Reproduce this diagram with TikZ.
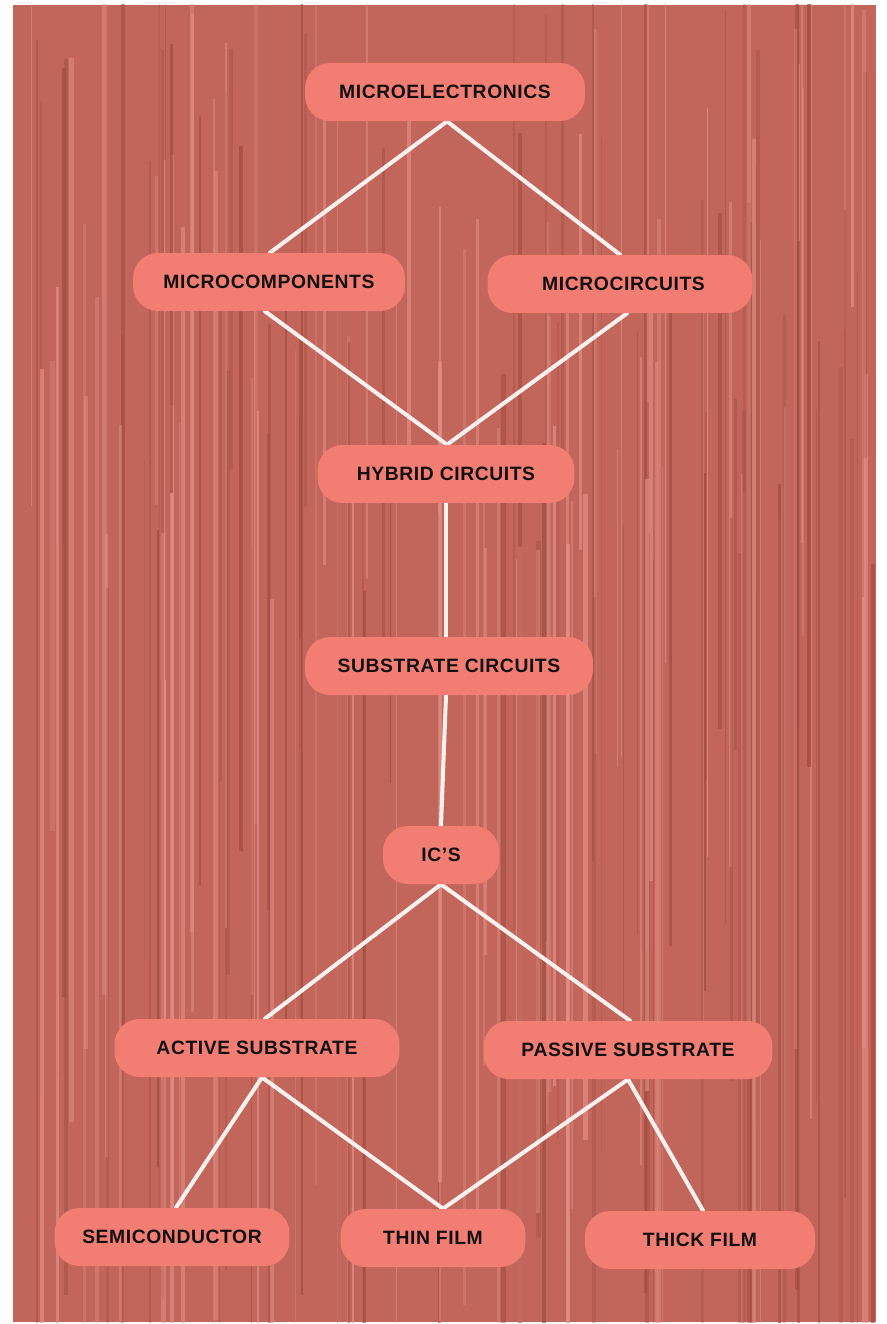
\documentclass[tikz,border=0pt]{standalone}
\usepackage{fontspec}
\setsansfont{Liberation Sans}[LetterSpace=3]
\usepackage{tikz}
\usetikzlibrary{calc}
\usepackage{xcolor}
\definecolor{Wood}{HTML}{C2655A}
\definecolor{WoodLight}{HTML}{E5948A}
\definecolor{WoodDark}{HTML}{9E4A3E}
\definecolor{Label}{HTML}{F27D73}
\definecolor{LabelText}{HTML}{121010}
\definecolor{Link}{HTML}{FAF0EE}
\pgfdeclarelayer{wood}
\pgfdeclarelayer{links}
\pgfsetlayers{wood,links,main}
\tikzset{
  termnode/.style={fill=Label,text=LabelText,rounded corners=0.5cm,minimum height=1.16cm,inner sep=2pt,align=center,font=\sffamily\bfseries\fontsize{11}{13}\selectfont},
  link/.style={draw=Link,line width=2.3pt,line join=round,line cap=round}
}

\begin{document}
\begin{tikzpicture}[x=0.02cm,y=-0.02cm]
\useasboundingbox (0,0) rectangle (886,1324);
% wood panel
\begin{pgfonlayer}{wood}
\fill[white] (0,0) rectangle (886,1324);
\fill[Wood] (13,5) rectangle (876,1322);
\begin{scope}
\clip (13,5) rectangle (876,1322);
\pgfmathsetseed{4217}
\foreach \k in {1,...,170}{
  \pgfmathsetmacro{\gx}{13+rnd*863}
  \pgfmathsetmacro{\gw}{0.4+rnd*2.2}
  \pgfmathsetmacro{\gy}{rnd*700-100}
  \pgfmathsetmacro{\gl}{300+rnd*1100}
  \pgfmathsetmacro{\go}{0.25+rnd*0.45}
  \ifodd\k
    \draw[WoodLight,opacity=\go,line width=\gw pt] (\gx,\gy) -- ++(0,\gl);
  \else
    \draw[WoodDark,opacity=\go,line width=\gw pt] (\gx,\gy) -- ++(0,\gl);
  \fi
}
\end{scope}
\end{pgfonlayer}

% boxes
\node[termnode,minimum width=5.6cm]  (melec)  at (445,92)   {MICROELECTRONICS};
\node[termnode,minimum width=5.44cm] (mcomp)  at (269,282)  {MICROCOMPONENTS};
\node[termnode,minimum width=5.3cm]  (mcirc)  at (620,284)  {\hspace*{4pt}MICROCIRCUITS};
\node[termnode,minimum width=5.14cm] (hybrid) at (446,474)  {HYBRID CIRCUITS};
\node[termnode,minimum width=5.76cm] (subst)  at (449,666)  {SUBSTRATE CIRCUITS};
\node[termnode,minimum width=2.32cm] (ics)    at (441,855)  {IC'S};
\node[termnode,minimum width=5.7cm]  (active) at (257,1048) {ACTIVE SUBSTRATE};
\node[termnode,minimum width=5.78cm] (passive) at (628,1050) {PASSIVE SUBSTRATE};
\node[termnode,minimum width=4.7cm]  (semi)   at (172,1237) {SEMICONDUCTOR};
\node[termnode,minimum width=3.7cm]  (thin)   at (433,1238) {THIN FILM};
\node[termnode,minimum width=4.6cm]  (thick)  at (700,1240) {THICK FILM};

% connectors
\begin{pgfonlayer}{links}
\draw[link] ($(mcomp.north)+(1,0)$) -- ($(melec.south)+(2,0)$) -- (mcirc.north);
\draw[link] ($(mcomp.south)+(-4,0)$) -- ($(hybrid.north)+(1,0)$) -- ($(mcirc.south)+(7,0)$);
\draw[link] (hybrid.south) -- ($(subst.north)+(-3,0)$);
\draw[link] ($(subst.south)+(-3,0)$) -- (ics.north);
\draw[link] ($(active.north)+(8,0)$) -- (ics.south) -- ($(passive.north)+(2,0)$);
\draw[link] ($(semi.north)+(4,0)$) -- ($(active.south)+(5,0)$) -- ($(thin.north)+(10,0)$);
\draw[link] ($(thin.north)+(10,0)$) -- (passive.south) -- ($(thick.north)+(3,0)$);
\end{pgfonlayer}
\end{tikzpicture}
\end{document}
